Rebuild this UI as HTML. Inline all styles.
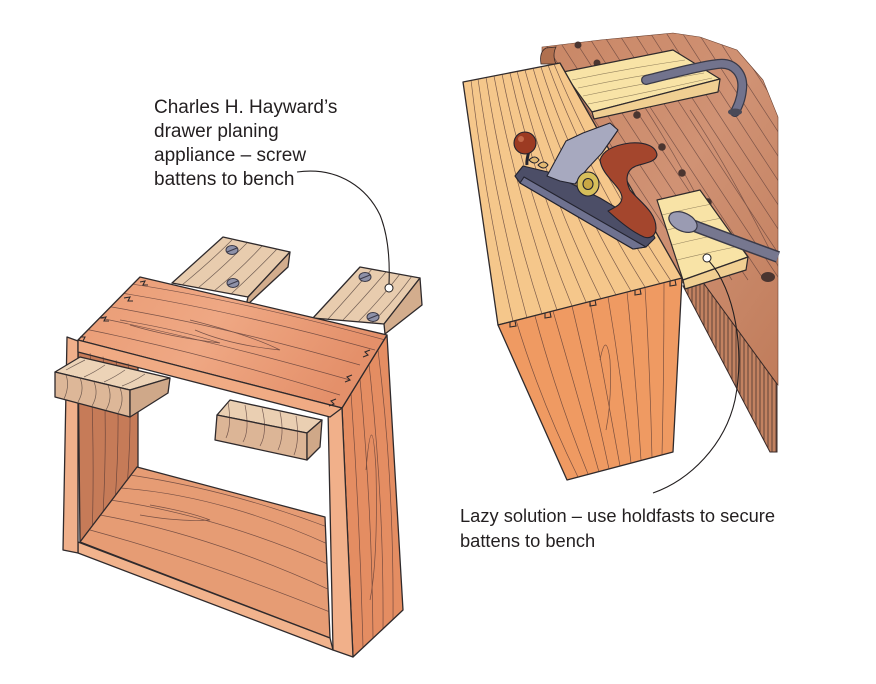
<!DOCTYPE html>
<html><head><meta charset="utf-8"><style>
html,body{margin:0;padding:0;background:#fff;}
svg{display:block}
text{font-family:"Liberation Sans",sans-serif;fill:#231f20;}
</style></head><body>
<svg width="876" height="684" viewBox="0 0 876 684" xmlns="http://www.w3.org/2000/svg">
<defs>
<clipPath id="cTop"><polygon points="140,277 387,335 342,408 78,340"/></clipPath>
<clipPath id="cRP"><polygon points="342,408 387,335 403,610 353,657"/></clipPath>
<clipPath id="cBot"><polygon points="80,542 137,467 325,517 330,638"/></clipPath>
<clipPath id="cIn"><polygon points="78,350 138,366 138,467 80,542"/></clipPath>
<clipPath id="cBench"><polygon points="542,47 600,40 673,33 700,37 737,50 763,80 778,117 778,385 700,280 683,283 560,63 542,63"/></clipPath>
<clipPath id="cFace"><polygon points="683,286 702,281 777,384 777,452 770,452"/></clipPath>
<clipPath id="cDT"><polygon points="463,82 560,63 683,280 498,325"/></clipPath>
<clipPath id="cDF"><polygon points="498,325 682,278 673,452 567,480"/></clipPath>
<linearGradient id="gBench" x1="0" y1="0" x2="1" y2="1">
<stop offset="0" stop-color="#c98766"/><stop offset="0.5" stop-color="#d09274"/><stop offset="1" stop-color="#c07c5b"/></linearGradient>
<linearGradient id="gTop" x1="0" y1="0" x2="1" y2="0.3">
<stop offset="0" stop-color="#e99b74"/><stop offset="0.5" stop-color="#efa884"/><stop offset="1" stop-color="#e4906a"/></linearGradient>
</defs>
<rect width="876" height="684" fill="#fff"/>

<!-- LEFT OBJECT -->
<g stroke="#2f2a2c" stroke-width="1.3" stroke-linejoin="round">
<polygon points="223,237 290,252 248,297 172,283" fill="#e8ccae"/>
<polygon points="290,252 288,267 246,306 248,297" fill="#d3ad8d"/>
<polygon points="360,267 420,278 384,324 313,318" fill="#e8ccae"/>
<polygon points="420,278 422,305 385,334 384,324" fill="#d3ad8d"/>
</g>
<g stroke="#4a3a36" stroke-width="0.7" fill="none" opacity="0.75">
<path d="M232,240 Q210,262 182,285"/><path d="M247,243 Q222,268 198,288"/><path d="M262,246 Q240,270 214,291"/><path d="M277,249 Q255,272 231,294"/>
<path d="M372,269 Q350,295 328,319"/><path d="M386,272 Q364,298 343,320"/><path d="M400,274 Q380,300 358,322"/><path d="M412,276 Q393,302 372,323"/>
</g>
<g stroke="#3b3a48" stroke-width="1">
<ellipse cx="232" cy="250" rx="6" ry="4.5" fill="#8e91a8"/><line x1="227" y1="252" x2="237" y2="248"/>
<ellipse cx="233" cy="283" rx="6" ry="4.5" fill="#8e91a8"/><line x1="228" y1="285" x2="238" y2="281"/>
<ellipse cx="365" cy="277" rx="6" ry="4.5" fill="#8e91a8"/><line x1="360" y1="279" x2="370" y2="275"/>
<ellipse cx="373" cy="317" rx="6" ry="4.5" fill="#8e91a8"/><line x1="368" y1="319" x2="378" y2="315"/>
</g>

<g stroke="#2f2a2c" stroke-width="1.3" stroke-linejoin="round">
<polygon points="78,350 138,366 138,467 80,542" fill="#c67b58"/>
<polygon points="80,542 137,467 325,517 330,638" fill="#e69c74"/>
<polygon points="78,542 330,638 333,650 78,553" fill="#f1b38d"/>
<polygon points="217,415 230,400 322,420 307,433" fill="#eacfb2"/>
<polygon points="217,415 307,433 307,460 215,440" fill="#dcb596"/>
<polygon points="307,433 322,420 320,447 307,460" fill="#cfa888"/>
<polygon points="67,337 78,341 78,553 63,550" fill="#f0b08b"/>
<polygon points="342,408 387,335 403,610 353,657" fill="#e48d62"/>
<polygon points="328,410 342,408 353,657 333,650" fill="#f1b08a"/>
<polygon points="140,277 387,335 342,408 78,340" fill="url(#gTop)"/>
<polygon points="78,340 342,408 330,417 78,352" fill="#f0ab84"/>
</g>
<g stroke="#4a3030" stroke-width="0.7" fill="none" opacity="0.7">
<g clip-path="url(#cIn)"><path d="M90,350 Q95,450 92,540"/><path d="M103,355 Q108,440 102,530"/><path d="M116,358 Q121,430 114,515"/><path d="M128,362 Q133,420 126,500"/></g>
<g clip-path="url(#cBot)"><path d="M90,530 Q200,560 330,612"/><path d="M100,515 Q210,535 330,590"/><path d="M110,500 Q215,515 330,565"/><path d="M120,488 Q220,495 330,545"/><path d="M130,475 Q230,490 330,528"/><path d="M150,505 Q190,512 210,520 Q180,522 140,515"/></g>
<g clip-path="url(#cTop)"><path d="M80,328 Q200,352 340,395"/><path d="M90,316 Q210,340 350,380"/><path d="M100,305 Q220,325 360,365"/><path d="M115,292 Q230,310 375,350"/><path d="M125,283 Q240,300 385,340"/><path d="M120,320 Q180,330 220,343 Q170,337 130,325"/><path d="M190,320 Q250,335 280,350 Q230,345 195,330"/></g>
<g clip-path="url(#cRP)"><path d="M351,393 Q360,520 363,648"/><path d="M360,379 Q372,510 373,638"/><path d="M369,364 Q384,500 383,629"/><path d="M378,350 Q394,480 393,619"/><path d="M366,470 Q372,400 376,470 Q378,560 370,600"/></g>
<path d="M228,402 Q232,425 226,438"/><path d="M245,405 Q250,430 243,442"/><path d="M262,408 Q268,432 260,446"/><path d="M280,412 Q285,435 278,450"/><path d="M296,416 Q300,440 294,455"/>
</g>
<g stroke="#2f2a2c" stroke-width="1.3" stroke-linejoin="round">
<polygon points="55,372 80,357 170,378 130,390" fill="#ecd3b7"/>
<polygon points="55,372 130,390 130,417 55,397" fill="#ddb798"/>
<polygon points="130,390 170,378 168,393 130,417" fill="#cfa889"/>
</g>
<g stroke="#4a3a36" stroke-width="0.7" fill="none" opacity="0.75">
<path d="M66,375 Q70,386 64,399"/><path d="M80,378 Q85,390 78,402"/><path d="M94,382 Q99,394 92,406"/><path d="M108,385 Q113,398 106,410"/><path d="M120,388 Q125,401 118,413"/>
<path d="M85,360 Q75,365 66,370"/><path d="M105,365 Q95,372 84,377"/><path d="M125,370 Q115,377 104,382"/><path d="M145,374 Q135,381 122,386"/>
</g>
<g stroke="#2f2a2c" stroke-width="1.1" fill="none">
<path d="M140,282 l5,-1 l-2,4 l5,0"/><path d="M124,298 l6,-1 l-2,4 l5,0"/><path d="M100,318 l6,-1 l-2,4 l5,0"/><path d="M80,337 l5,0 l-2,4"/>
<path d="M370,350 l-5,2 l3,3 l-5,2"/><path d="M352,375 l-5,2 l3,3 l-5,2"/><path d="M336,399 l-5,2 l3,3 l-5,2"/>
</g>
<path d="M297,172 C340,166 368,190 380,215 C388,235 390,260 389,284" fill="none" stroke="#231f20" stroke-width="1.1"/>
<circle cx="389" cy="288" r="4" fill="#fff" stroke="#231f20" stroke-width="1"/>

<!-- RIGHT OBJECT -->
<polygon points="542,47 600,40 673,33 700,37 737,50 763,80 778,117 778,385 700,280 683,283 560,63 542,63" fill="url(#gBench)" stroke="#6a4030" stroke-width="0.6"/>
<g clip-path="url(#cBench)" stroke="#4a3030" stroke-width="0.7" fill="none" opacity="0.6">
<path d="M530,20 q70,110 170,260"/><path d="M546,20 q70,110 170,260"/><path d="M562,20 q70,110 170,260"/><path d="M578,20 q70,110 170,260"/><path d="M594,20 q70,110 170,260"/><path d="M610,20 q70,110 170,260"/><path d="M626,20 q70,110 170,260"/><path d="M642,20 q70,110 170,260"/><path d="M658,20 q70,110 170,260"/><path d="M674,20 q70,110 170,260"/><path d="M690,20 q70,110 170,260"/><path d="M706,20 q70,110 170,260"/><path d="M722,20 q70,110 170,260"/><path d="M738,20 q70,110 170,260"/><path d="M754,20 q70,110 170,260"/><path d="M690,110 q40,60 90,160"/><path d="M640,100 q40,60 90,160"/>
</g>
<path d="M541,64 Q539,52 546,48 L556,47 Q552,55 556,64 Z" fill="#b0704f" stroke="#3a2a28" stroke-width="0.8"/>
<polygon points="683,286 702,281 777,384 777,452 770,452" fill="#c28261" stroke="#3a2a28" stroke-width="1"/>
<g clip-path="url(#cFace)" stroke="#3a2a28" stroke-width="0.7">
<path d="M688,270V460M692,270V460M696,270V460M700,270V460M704,270V460M708,270V460M712,270V460M716,270V460M720,270V460M724,270V460M728,270V460M732,270V460M736,270V460M740,270V460M744,270V460M748,270V460M752,270V460M756,270V460M760,270V460M764,270V460M768,270V460M772,270V460M776,270V460"/>
</g>
<g fill="#4a3530">
<circle cx="578" cy="45" r="3.5"/><circle cx="597" cy="63" r="3.5"/><circle cx="637" cy="115" r="3.8"/><circle cx="662" cy="147" r="3.8"/><circle cx="682" cy="173" r="3.8"/><circle cx="708" cy="202" r="3.8"/>
<ellipse cx="768" cy="277" rx="7" ry="5"/>
</g>
<g stroke="#2f2a2c" stroke-width="1.2" stroke-linejoin="round">
<polygon points="563,72 673,50 720,79 592,112" fill="#f8e3a6"/>
<polygon points="592,112 720,79 718,92 594,119" fill="#f0cf92"/>
</g>
<g stroke="#6a5a40" stroke-width="0.6" fill="none" opacity="0.7">
<path d="M572,80 Q630,68 685,60"/><path d="M578,88 Q635,76 695,67"/><path d="M583,96 Q640,84 704,73"/><path d="M588,104 Q650,92 712,78"/>
</g>
<path d="M646,80 C670,74 700,66 718,64 C735,62 744,75 742,90 C741,100 738,106 735,112" fill="none" stroke="#3a3a48" stroke-width="10" stroke-linecap="round"/>
<path d="M646,80 C670,74 700,66 718,64 C735,62 744,75 742,90 C741,100 738,106 735,112" fill="none" stroke="#72738d" stroke-width="7.5" stroke-linecap="round"/>
<ellipse cx="735" cy="112" rx="7" ry="3.5" fill="#4a4a58"/>
<g stroke="#2f2a2c" stroke-width="1.2" stroke-linejoin="round">
<polygon points="657,200 700,190 748,257 683,280" fill="#f8e3a6"/>
<polygon points="683,280 748,257 746,270 685,289" fill="#f0cf92"/>
</g>
<g stroke="#6a5a40" stroke-width="0.6" fill="none" opacity="0.7">
<path d="M662,215 Q690,208 712,204"/><path d="M667,230 Q700,222 722,218"/><path d="M672,245 Q705,237 732,232"/><path d="M677,260 Q710,252 740,246"/>
</g>
<path d="M684,222 C710,232 745,245 778,257" fill="none" stroke="#3a3a48" stroke-width="12"/>
<path d="M684,222 C710,232 745,245 778,257" fill="none" stroke="#76778f" stroke-width="9"/>
<ellipse cx="683" cy="222" rx="15" ry="9" transform="rotate(25 683 222)" fill="#9a9bb2" stroke="#3a3a48" stroke-width="1.2"/>
<g stroke="#2f2a2c" stroke-width="1.3" stroke-linejoin="round">
<polygon points="463,82 560,63 683,280 498,325" fill="#f5c78b"/>
<polygon points="498,325 682,278 673,452 567,480" fill="#ef9a62"/>
</g>
<g stroke="#4a3030" stroke-width="0.7" fill="none" opacity="0.7">
<g clip-path="url(#cDT)">
<path d="M471,80 Q485,200 513,321"/><path d="M478,79 Q495,200 527,318"/><path d="M486,77 Q505,200 542,314"/><path d="M494,76 Q515,190 557,310"/><path d="M502,74 Q525,190 572,306"/><path d="M510,73 Q535,185 586,302"/><path d="M517,71 Q545,185 601,299"/><path d="M525,70 Q555,180 616,295"/><path d="M533,68 Q565,180 631,291"/><path d="M541,67 Q575,175 645,287"/><path d="M548,65 Q588,175 660,284"/><path d="M554,64 Q598,170 671,281"/>
</g>
<g clip-path="url(#cDF)">
<path d="M516,320 Q540,400 578,477"/><path d="M535,316 Q558,400 588,474"/><path d="M553,311 Q576,390 599,472"/><path d="M572,306 Q592,390 609,469"/><path d="M590,302 Q606,390 620,466"/><path d="M608,297 Q622,380 631,463"/><path d="M627,292 Q636,380 641,460"/><path d="M645,287 Q650,370 652,458"/><path d="M664,283 Q664,370 662,455"/><path d="M600,360 Q606,330 610,360 Q612,400 606,430"/>
</g>
</g>
<g stroke="#2f2a2c" stroke-width="1.1" fill="none">
<path d="M510,322 l0,5 l6,-1 l-1,-5"/><path d="M545,313 l0,5 l6,-1 l-1,-5"/><path d="M590,301 l0,5 l6,-1 l-1,-5"/><path d="M635,290 l0,5 l6,-1 l-1,-5"/><path d="M670,281 l0,5 l6,-1 l-1,-5"/>
</g>
<g stroke="#23232e" stroke-width="1.1" stroke-linejoin="round">
<polygon points="515,176 523,166 548,172 600,198 650,228 655,238 646,247 633,249 520,183" fill="#4c4e67"/>
<polygon points="520,183 633,249 646,247 524,177" fill="#6f7290"/>
<polygon points="547,176 566,141 583,133 610,123 618,130 602,153 588,168 575,184 560,181" fill="#a7a9bf"/>
<path d="M527,165 C526,158 530,152 528,150" fill="none" stroke-width="3"/>
<circle cx="525" cy="143" r="11" fill="#9c3b22"/>
<path d="M529,160 q6,-6 10,0 q-4,6 -10,0 Z M538,165 q6,-6 10,0 q-4,6 -10,0 Z" fill="#e2b872"/>
<ellipse cx="588" cy="184" rx="11" ry="12" fill="#d7bf5a"/>
<ellipse cx="588" cy="184" rx="5" ry="5.5" fill="#c9a845"/>
<path d="M600,160 C603,150 615,145 630,143 C645,142 656,146 657,155 C656,162 645,163 636,166 C626,170 625,180 630,190 C640,202 656,212 656,228 C656,236 650,239 644,237 C632,232 620,222 608,211 C615,207 622,205 622,197 C620,185 602,176 600,160 Z" fill="#a4462d"/>
</g>
<circle cx="521" cy="139" r="3" fill="#c46a4a"/>
<path d="M709,261 C735,290 745,350 735,400 C725,445 690,480 653,493" fill="none" stroke="#231f20" stroke-width="1.1"/>
<circle cx="707" cy="258" r="4" fill="#fff" stroke="#231f20" stroke-width="1"/>

<g font-size="19">
<text x="154" y="113">Charles H. Hayward’s</text>
<text x="154" y="137">drawer planing</text>
<text x="154" y="161">appliance – screw</text>
<text x="154" y="185">battens to bench</text>
</g>
<g font-size="18.3">
<text x="460" y="522">Lazy solution – use holdfasts to secure</text>
<text x="460" y="547">battens to bench</text>
</g>
</svg>
</body></html>
